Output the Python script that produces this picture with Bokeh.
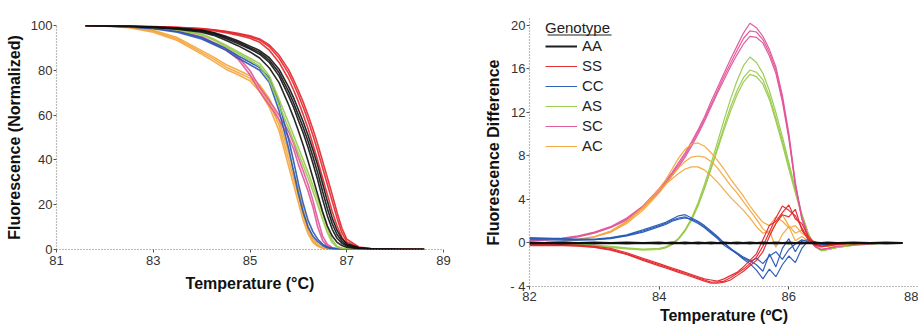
from bokeh.plotting import figure
from bokeh.layouts import row, column
from bokeh.models import FixedTicker, Legend, LegendItem, BoxAnnotation
from bokeh.embed import file_html
from bokeh.resources import INLINE

FONT = "Liberation Sans"

# ---------------- data: left panel (normalized melt curves) ----------------
T_MELT = [81.6, 82.0, 82.5, 83.0, 83.5, 84.0, 84.25, 84.5, 84.75, 85.0, 85.2, 85.4, 85.6, 85.8, 85.9,
          86.0, 86.1, 86.2, 86.3, 86.4, 86.5, 86.6, 86.7, 86.8, 86.9, 87.0, 87.25, 87.5, 88.0, 88.6]

AA_1 = [100, 99.9, 99.7, 99.2, 98.6, 97.5, 96.2, 94.2, 92.0, 89.5, 87.2, 83.5, 77.5, 68.5, 63.5,
        57.6, 52.0, 45.5, 38.5, 31.0, 22.5, 15.0, 9.0, 5.0, 2.8, 1.5, 0.5, 0.2, 0.1, 0.0]
AA_2 = [100, 99.9, 99.8, 99.4, 98.9, 98.0, 96.9, 95.2, 93.2, 90.8, 88.8, 85.6, 80.5, 72.5, 67.8,
        62.5, 57.0, 51.0, 44.5, 37.5, 29.5, 21.5, 14.0, 8.5, 4.8, 2.6, 0.9, 0.3, 0.1, 0.0]
AA_3 = [100, 99.8, 99.6, 99.0, 98.3, 97.0, 95.6, 93.4, 91.0, 88.2, 85.5, 81.0, 74.5, 64.5, 59.0,
        53.0, 46.5, 39.5, 32.0, 24.5, 17.0, 10.5, 6.0, 3.2, 1.8, 1.0, 0.4, 0.2, 0.1, 0.0]
AA_4 = [100, 99.9, 99.7, 99.3, 98.8, 97.7, 96.5, 94.7, 92.6, 90.1, 88.0, 84.5, 79.0, 70.5, 65.5,
        60.0, 54.5, 48.3, 41.5, 34.2, 26.0, 18.2, 11.5, 6.7, 3.7, 2.0, 0.7, 0.25, 0.1, 0.0]

SS_1 = [100, 99.9, 99.8, 99.5, 99.1, 98.5, 98.0, 97.2, 96.2, 95.0, 93.5, 90.5, 85.5, 78.5, 74.0,
        69.0, 63.5, 57.6, 51.0, 44.0, 36.5, 29.0, 21.5, 14.0, 7.5, 3.5, 0.8, 0.3, 0.1, 0.0]
SS_2 = [100, 99.9, 99.8, 99.4, 99.0, 98.3, 97.7, 96.8, 95.7, 94.3, 92.5, 89.0, 83.5, 76.0, 71.2,
        66.0, 60.2, 54.0, 47.0, 39.8, 32.0, 24.5, 17.0, 10.5, 5.5, 2.5, 0.6, 0.2, 0.1, 0.0]
SS_3 = [100, 99.9, 99.8, 99.5, 99.2, 98.6, 98.1, 97.4, 96.5, 95.4, 94.0, 91.3, 86.8, 80.2, 75.8,
        71.0, 65.8, 60.0, 53.8, 47.0, 39.5, 32.0, 24.5, 16.5, 9.5, 4.6, 1.1, 0.4, 0.1, 0.0]

CC_1 = [100, 99.8, 99.4, 98.6, 97.0, 94.0, 91.5, 89.0, 85.5, 82.5, 80.0, 74.5, 62.0, 45.0, 35.0,
        25.0, 16.5, 10.0, 6.0, 3.5, 1.8, 0.8, 0.4, 0.2, 0.1, 0.05, 0.0, 0.0, 0.0, 0.0]
CC_2 = [100, 99.8, 99.5, 98.8, 97.4, 94.6, 92.2, 89.8, 86.5, 83.6, 81.2, 76.5, 65.5, 49.0, 39.5,
        29.5, 20.5, 13.0, 8.0, 4.6, 2.4, 1.1, 0.5, 0.2, 0.1, 0.05, 0.0, 0.0, 0.0, 0.0]

AS_1 = [100, 99.9, 99.6, 99.1, 98.0, 95.8, 93.5, 90.5, 87.5, 84.5, 81.8, 75.5, 64.5, 54.0, 48.5,
        43.0, 37.5, 32.0, 26.0, 20.0, 13.5, 7.5, 3.0, 1.0, 0.4, 0.2, 0.1, 0.05, 0.0, 0.0]
AS_2 = [100, 99.9, 99.7, 99.2, 98.2, 96.2, 94.0, 91.2, 88.3, 85.4, 83.0, 77.5, 67.0, 56.5, 51.0,
        45.5, 40.0, 34.5, 28.5, 22.5, 16.0, 9.5, 4.2, 1.5, 0.6, 0.3, 0.1, 0.05, 0.0, 0.0]

SC_1 = [100, 99.8, 99.5, 98.8, 97.3, 94.5, 91.8, 89.0, 85.0, 78.0, 70.5, 64.5, 58.0, 50.0, 45.0,
        38.0, 32.0, 26.0, 19.0, 10.0, 4.0, 1.5, 0.6, 0.3, 0.1, 0.05, 0.0, 0.0, 0.0, 0.0]
SC_2 = [100, 99.8, 99.6, 99.0, 97.6, 95.0, 92.4, 89.8, 86.2, 79.8, 72.5, 66.5, 60.0, 52.5, 47.5,
        41.0, 35.0, 29.0, 22.0, 13.5, 6.0, 2.3, 0.9, 0.4, 0.15, 0.05, 0.0, 0.0, 0.0, 0.0]

AC_1 = [100, 99.8, 99.3, 97.5, 94.0, 88.0, 85.0, 81.5, 79.0, 76.5, 72.0, 65.5, 55.5, 40.0, 32.0,
        24.0, 15.5, 8.5, 4.0, 1.8, 0.8, 0.4, 0.2, 0.1, 0.0, 0.0, 0.0, 0.0, 0.0, 0.0]
AC_2 = [100, 99.7, 99.0, 97.0, 93.3, 87.2, 84.0, 80.5, 78.0, 75.3, 70.5, 63.5, 53.0, 37.0, 29.0,
        21.0, 13.0, 7.0, 3.2, 1.4, 0.6, 0.3, 0.15, 0.05, 0.0, 0.0, 0.0, 0.0, 0.0, 0.0]
AC_3 = [100, 99.8, 99.4, 97.9, 94.6, 88.8, 85.9, 82.6, 80.1, 77.6, 73.4, 67.3, 57.8, 43.0, 35.0,
        27.0, 18.0, 10.3, 5.0, 2.3, 1.0, 0.5, 0.25, 0.1, 0.05, 0.0, 0.0, 0.0, 0.0, 0.0]

# ---------------- data: right panel (difference curves vs AA) ----------------
T_DIFF = [82.0, 82.25, 82.5, 82.75, 83.0, 83.25, 83.5, 83.75, 84.0, 84.1, 84.2, 84.3, 84.4, 84.5,
          84.6, 84.7, 84.8, 84.9, 85.0, 85.1, 85.2, 85.3, 85.4, 85.5, 85.6, 85.7, 85.8, 85.9,
          86.0, 86.1, 86.2, 86.3, 86.4, 86.5, 86.6, 86.75, 87.0, 87.25, 87.5, 87.75]

D_AA_1 = [0.0] * 40
D_AA_2 = [0.05, 0.0, 0.05, 0.0, 0.05, 0.0, 0.05, 0.0, 0.05, 0.0, 0.05, 0.0, 0.05, 0.0, 0.05, 0.0,
          0.05, 0.0, 0.05, 0.0, 0.05, 0.0, 0.05, 0.0, 0.05, 0.0, 0.05, 0.0, 0.05, 0.0, 0.05, 0.0,
          0.05, 0.0, 0.05, 0.0, 0.05, 0.0, 0.05, 0.0]
D_AA_3 = [-0.05, 0.0, -0.05, 0.0, -0.05, 0.0, -0.05, 0.0, -0.05, 0.0, -0.05, 0.0, -0.05, 0.0, -0.05,
          0.0, -0.05, 0.0, -0.05, 0.0, -0.05, 0.0, -0.05, 0.0, -0.05, 0.0, -0.05, 0.0, -0.05, 0.0,
          -0.05, 0.0, -0.05, 0.0, -0.05, 0.0, -0.05, 0.0, -0.05, 0.0]

D_SS_1 = [-0.2, -0.2, -0.2, -0.25, -0.35, -0.6, -1.0, -1.5, -2.0, -2.2, -2.4, -2.6, -2.8, -3.0, -3.2,
          -3.4, -3.6, -3.6, -3.5, -3.2, -2.8, -2.4, -1.9, -1.3, -0.3, 1.0, 2.3, 3.4, 3.0, 2.5, 1.4,
          0.4, -0.1, -0.3, -0.25, -0.1, 0.0, 0.0, 0.0, 0.0]
D_SS_2 = [-0.1, -0.15, -0.15, -0.2, -0.3, -0.5, -0.9, -1.4, -1.9, -2.1, -2.3, -2.5, -2.7, -2.9, -3.1,
          -3.3, -3.4, -3.5, -3.3, -3.0, -2.7, -2.2, -1.6, -1.0, 0.3, 1.6, 2.0, 2.8, 3.5, 2.2, 1.8,
          0.6, 0.0, -0.3, -0.2, -0.1, 0.0, 0.0, 0.0, 0.0]
D_SS_3 = [-0.25, -0.25, -0.25, -0.3, -0.4, -0.65, -1.05, -1.6, -2.1, -2.3, -2.5, -2.7, -2.9, -3.1, -3.3,
          -3.5, -3.7, -3.7, -3.6, -3.4, -3.0, -2.6, -2.1, -1.6, -0.8, 0.6, 1.8, 2.6, 2.4, 3.1, 1.2,
          0.3, -0.2, -0.35, -0.25, -0.1, 0.0, 0.0, 0.0, 0.0]

D_CC_1 = [0.4, 0.4, 0.35, 0.3, 0.3, 0.45, 0.7, 1.1, 1.6, 1.8, 2.1, 2.3, 2.4, 2.1, 1.8, 1.4, 0.9, 0.4,
          -0.2, -0.6, -1.0, -1.4, -1.7, -1.4, -1.9, -1.2, -0.8, -1.5, -0.6, -0.1, 0.3, 0.1, 0.0, -0.1,
          -0.1, 0.0, 0.0, 0.0, 0.0, 0.0]
D_CC_2 = [0.3, 0.3, 0.25, 0.25, 0.3, 0.4, 0.65, 1.0, 1.5, 1.7, 2.0, 2.2, 2.3, 2.2, 1.9, 1.5, 1.0, 0.5,
          0.0, -0.5, -1.0, -1.5, -1.9, -2.5, -3.3, -2.4, -3.1, -2.0, -1.2, -1.8, -0.5, 0.2, 0.1, -0.1,
          -0.1, 0.0, 0.0, 0.0, 0.0, 0.0]
D_CC_3 = [0.5, 0.45, 0.4, 0.35, 0.35, 0.5, 0.75, 1.2, 1.7, 1.9, 2.2, 2.5, 2.6, 2.3, 2.0, 1.6, 1.1, 0.6,
          0.0, -0.5, -0.9, -1.3, -1.6, -2.0, -2.6, -1.0, -2.2, -0.5, 0.4, -0.8, 0.2, 0.3, 0.0, -0.1,
          -0.1, 0.0, 0.0, 0.0, 0.0, 0.0]

D_AS_1 = [0.0, -0.05, -0.1, -0.15, -0.25, -0.35, -0.5, -0.6, -0.55, -0.4, -0.1, 0.4, 1.2, 2.3, 3.7, 5.4,
          7.3, 9.3, 11.3, 13.2, 14.9, 16.3, 17.1, 16.6, 15.6, 14.0, 12.0, 9.8, 7.4, 5.0, 2.7, 0.9, -0.3,
          -0.7, -0.6, -0.4, -0.2, -0.1, 0.0, 0.0]
D_AS_2 = [0.05, 0.0, -0.05, -0.1, -0.2, -0.3, -0.45, -0.55, -0.5, -0.35, -0.05, 0.45, 1.2, 2.2, 3.5, 5.1,
          6.9, 8.8, 10.7, 12.5, 14.0, 15.2, 15.9, 15.7, 15.0, 13.5, 11.5, 9.4, 7.1, 4.8, 2.6, 0.8, -0.3,
          -0.7, -0.6, -0.4, -0.2, -0.1, 0.0, 0.0]
D_AS_3 = [-0.05, -0.1, -0.15, -0.2, -0.3, -0.4, -0.55, -0.65, -0.6, -0.45, -0.15, 0.35, 1.1, 2.1, 3.4, 5.0,
          6.8, 8.6, 10.4, 12.1, 13.6, 14.8, 15.5, 15.3, 14.6, 13.2, 11.2, 9.1, 6.8, 4.6, 2.5, 0.8, -0.3,
          -0.7, -0.6, -0.4, -0.2, -0.1, 0.0, 0.0]

D_SC_1 = [0.3, 0.35, 0.45, 0.65, 1.0, 1.5, 2.3, 3.4, 5.0, 5.7, 6.5, 7.4, 8.3, 9.3, 10.4, 11.6, 13.0, 14.3,
          15.6, 16.9, 18.1, 19.3, 20.2, 19.8, 19.0, 17.8, 16.2, 13.6, 10.1, 5.6, 2.4, 0.6, -0.3, -0.6,
          -0.5, -0.3, -0.15, -0.05, 0.0, 0.0]
D_SC_2 = [0.2, 0.25, 0.35, 0.55, 0.9, 1.4, 2.1, 3.2, 4.7, 5.4, 6.2, 7.0, 7.9, 8.9, 10.0, 11.2, 12.5, 13.8,
          15.0, 16.2, 17.3, 18.3, 19.0, 18.9, 18.4, 17.2, 15.6, 13.0, 9.6, 5.3, 2.2, 0.5, -0.3, -0.6,
          -0.5, -0.3, -0.15, -0.05, 0.0, 0.0]
D_SC_3 = [0.25, 0.3, 0.4, 0.6, 0.95, 1.45, 2.2, 3.3, 4.85, 5.55, 6.35, 7.2, 8.1, 9.1, 10.2, 11.4, 12.7, 14.0,
          15.3, 16.5, 17.7, 18.8, 19.5, 19.4, 18.7, 17.5, 15.9, 13.3, 9.8, 5.4, 2.3, 0.55, -0.3, -0.6,
          -0.5, -0.3, -0.15, -0.05, 0.0, 0.0]

D_AC_1 = [0.0, 0.05, 0.15, 0.35, 0.6, 1.1, 2.0, 3.3, 5.0, 5.8, 6.8, 7.8, 8.6, 9.1, 9.2, 8.9, 8.3, 7.6, 6.8,
          5.9, 5.1, 4.3, 3.4, 2.6, 1.9, 1.6, 2.4, 2.0, 1.4, 1.6, 0.9, 0.5, 0.1, -0.2, -0.3, -0.2, -0.1,
          0.0, 0.0, 0.0]
D_AC_2 = [0.0, 0.05, 0.12, 0.3, 0.55, 1.0, 1.8, 3.0, 4.6, 5.4, 6.2, 6.9, 7.5, 7.9, 8.0, 7.9, 7.5, 6.9, 6.1,
          5.3, 4.6, 3.8, 3.0, 2.2, 1.3, 0.8, 1.8, 2.6, 1.6, 0.9, 1.2, 0.4, 0.0, -0.2, -0.3, -0.2, -0.1,
          0.0, 0.0, 0.0]
D_AC_3 = [0.0, 0.05, 0.12, 0.3, 0.55, 1.0, 1.9, 3.2, 4.8, 5.4, 5.9, 6.4, 6.8, 7.0, 7.0, 6.7, 6.2, 5.6, 4.9,
          4.2, 3.6, 3.0, 2.3, 1.5, 0.9, 1.1, -0.4, 0.8, 1.5, 0.2, 0.6, 0.2, -0.1, -0.2, -0.3, -0.2, -0.1,
          0.0, 0.0, 0.0]

GENOTYPES = ["AA", "SS", "CC", "AS", "SC", "AC"]
COLORS = {"AA": "#111111", "SS": "#e3262b", "CC": "#2758b5",
          "AS": "#98c94a", "SC": "#e05499", "AC": "#f4a53a"}

LEFT_X_TICKS = [81, 83, 85, 87, 89]
LEFT_Y_TICKS = [0, 20, 40, 60, 80, 100]
RIGHT_X_TICKS = [82, 84, 86, 88]
RIGHT_Y_TICKS = [-4, 0, 4, 8, 12, 16, 20]

MELT = {"AA": [AA_1, AA_2, AA_3, AA_4], "SS": [SS_1, SS_2, SS_3], "CC": [CC_1, CC_2],
        "AS": [AS_1, AS_2], "SC": [SC_1, SC_2], "AC": [AC_1, AC_2, AC_3]}
DIFF = {"AA": [D_AA_1, D_AA_2, D_AA_3], "SS": [D_SS_1, D_SS_2, D_SS_3], "CC": [D_CC_1, D_CC_2, D_CC_3],
        "AS": [D_AS_1, D_AS_2, D_AS_3], "SC": [D_SC_1, D_SC_2, D_SC_3], "AC": [D_AC_1, D_AC_2, D_AC_3]}


def style(p, xticks, yticks):
    p.grid.visible = False
    p.outline_line_color = None
    p.background_fill_color = "white"
    p.border_fill_color = "white"
    p.xaxis.ticker = FixedTicker(ticks=xticks)
    p.yaxis.ticker = FixedTicker(ticks=yticks)
    for ax in (p.xaxis[0], p.yaxis[0]):
        ax.axis_line_color = "#777777"
        ax.axis_line_dash = "1 2"
        ax.axis_line_width = 1.2
        ax.major_tick_line_color = "#555555"
        ax.major_tick_out = 3
        ax.major_tick_in = 0
        ax.minor_tick_line_color = None
        ax.major_label_text_font = FONT
        ax.major_label_text_font_size = "13px"
        ax.major_label_text_color = "#333333"
        ax.axis_label_text_font = FONT
        ax.axis_label_text_font_size = "16px"
        ax.axis_label_text_font_style = "bold"
        ax.axis_label_text_color = "#111111"
    p.xaxis.major_label_standoff = 3
    p.yaxis.major_label_standoff = 1
    p.xaxis.axis_label_standoff = 7
    p.yaxis.axis_label_standoff = 5


# ---------------- left panel ----------------
p1 = figure(width=460, height=329, x_range=(81, 89), y_range=(0, 100),
            output_backend="svg", toolbar_location=None,
            min_border_left=56, min_border_right=17, min_border_top=25, min_border_bottom=80,
            x_axis_label="Temperature (°C)", y_axis_label="Fluorescence (Normalized)")
style(p1, LEFT_X_TICKS, LEFT_Y_TICKS)
for g in ["AC", "SC", "CC", "AS", "SS", "AA"]:
    for rep in MELT[g]:
        p1.line(T_MELT, rep, line_color=COLORS[g], line_width=1.6, line_alpha=0.9)

# ---------------- right panel ----------------
p2 = figure(width=458, height=329, x_range=(82, 88), y_range=(-4, 20.64),
            output_backend="svg", toolbar_location=None,
            min_border_left=69, min_border_right=0, min_border_top=18, min_border_bottom=43,
            x_axis_label="Temperature (ºC)", y_axis_label="Fluorescence Difference")
style(p2, RIGHT_X_TICKS, RIGHT_Y_TICKS)
p2.xaxis.axis_label_standoff = 3
p2.xaxis.major_label_standoff = 2
p2.yaxis.major_label_overrides = {-4: "- 4"}

first = {}
for g in ["AS", "SC", "AC", "CC", "SS", "AA"]:
    w = 2.0 if g == "AA" else 1.2
    for rep in DIFF[g]:
        r = p2.line(T_DIFF, rep, line_color=COLORS[g], line_width=w, line_alpha=0.95)
        first.setdefault(g, r)

items = [LegendItem(label=g, renderers=[first[g]]) for g in GENOTYPES]

legend = Legend(items=items, title="Genotype", location=(16, 132),
                border_line_color=None, background_fill_alpha=0, padding=0, margin=0,
                spacing=3, glyph_width=32, glyph_height=16, label_height=16, label_standoff=5,
                label_text_font=FONT, label_text_font_size="15px", label_text_color="#222222",
                title_text_font=FONT, title_text_font_size="15px", title_text_font_style="normal",
                title_text_color="#222222", title_standoff=1)
p2.add_layout(legend)

underline = BoxAnnotation(left=18, right=82, top=252, bottom=251,
                          left_units="screen", right_units="screen",
                          top_units="screen", bottom_units="screen",
                          fill_color="#222222", fill_alpha=1, line_color=None)
p2.add_layout(underline)

layout = row(column(p1), column(p2))
open("out.html", "w").write(file_html(layout, INLINE))
